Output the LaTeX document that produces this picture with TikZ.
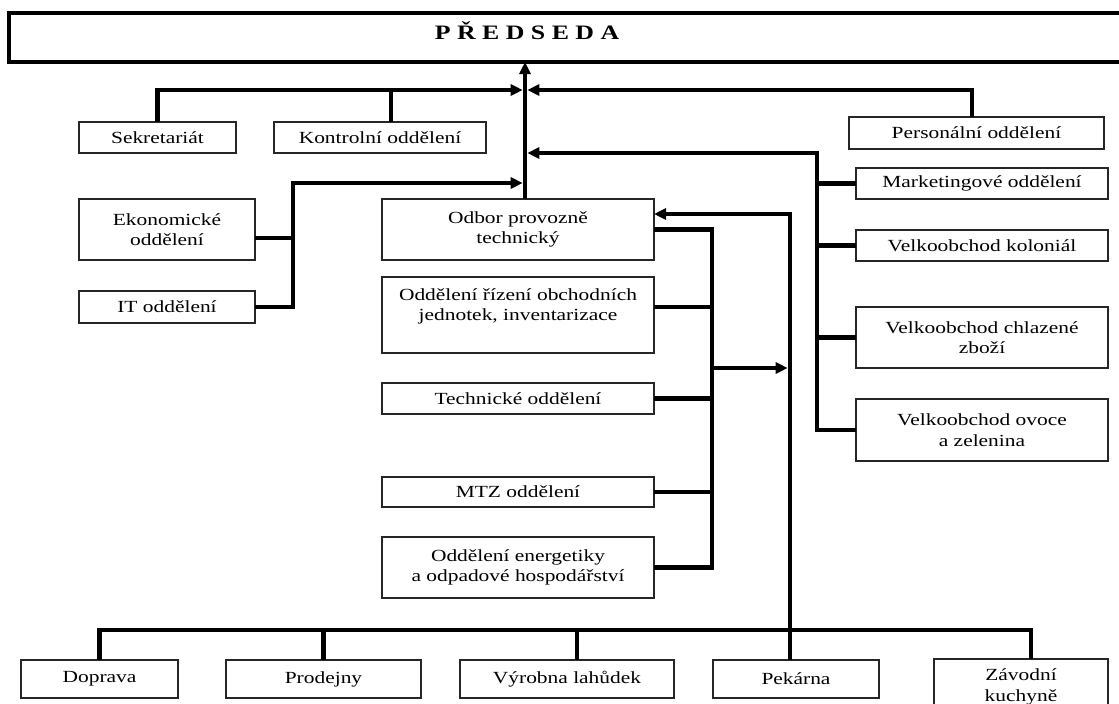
\documentclass[tikz,border=0pt]{standalone}
\usepackage{fontspec}
\setmainfont[FakeStretch=1.26]{Liberation Serif}
\usetikzlibrary{arrows.meta}
\begin{document}
\begin{tikzpicture}[x=1pt,y=-1pt,
  box/.style={draw=black!85, line width=1.2pt, fill=white, inner sep=0pt, outer sep=0pt,
    align=center, font=\fontsize{17}{20.5}\selectfont},
  topbox/.style={draw=black, line width=4pt, fill=white, inner sep=0pt, outer sep=0pt},
  conn/.style={line width=4.5pt},
  arr/.style={-{Triangle[length=12pt,width=11pt]}},
  tip/.style={shorten >=2.3pt}
]
\useasboundingbox (0,0) rectangle (1119,704);
\fill[white] (0,0) rectangle (1119,704);
\clip (0,0) rectangle (1119,704);

% top
\node[topbox, minimum width=1140, minimum height=49] (predseda) at (579,37.5) {};
\node[inner sep=0pt, anchor=base, font=\fontsize{20.5}{24}\selectfont\bfseries] (title) at (527,39.3) {P Ř E D S E D A};

% boxes
\node[box, minimum width=157, minimum height=31] (sek) at (157.5,137.5) {Sekretariát};
\node[box, minimum width=212, minimum height=31] (kon) at (380,137.5) {Kontrolní oddělení};
\node[box, minimum width=255, minimum height=32] (per) at (976.5,133) {Personální oddělení};
\node[box, minimum width=252, minimum height=31] (mkt) at (982,183.5) {Marketingové oddělení};
\node[box, minimum width=252, minimum height=31] (kol) at (982,245.5) {Velkoobchod koloniál};
\node[box, minimum width=252, minimum height=61] (chl) at (982,337.5) {Velkoobchod chlazené\\zboží};
\node[box, minimum width=252, minimum height=62] (ovo) at (982,430) {Velkoobchod ovoce\\a zelenina};
\node[box, minimum width=176, minimum height=61] (eko) at (167,229.5) {Ekonomické\\oddělení};
\node[box, minimum width=176, minimum height=32] (it) at (167,307) {IT oddělení};
\node[box, minimum width=272, minimum height=61] (odb) at (518,229.5) {Odbor provozně\\technický};
\node[box, minimum width=272, minimum height=76] (riz) at (518,315) {Oddělení řízení obchodních\\jednotek, inventarizace\\\mbox{}};
\node[box, minimum width=272, minimum height=31] (tec) at (518,398.5) {Technické oddělení};
\node[box, minimum width=272, minimum height=30] (mtz) at (518,492) {MTZ oddělení};
\node[box, minimum width=272, minimum height=61] (ene) at (518,567.5) {Oddělení energetiky\\a odpadové hospodářství};
\node[box, minimum width=157, minimum height=38] (dop) at (99.5,679) {Doprava};
\node[box, minimum width=195, minimum height=38] (pro) at (323.5,679) {Prodejny};
\node[box, minimum width=214, minimum height=38] (vyr) at (567,679) {Výrobna lahůdek};
\node[box, minimum width=166, minimum height=38] (pek) at (796,679) {Pekárna};
\node[box, minimum width=174, minimum height=56] (zav) at (1021,687) {Závodní\\kuchyně};

% junction coordinates
\coordinate (t90) at (525,90);
\coordinate (t153) at (525,153);
\coordinate (t183) at (525,183);
\coordinate (lb) at (293,183);
\coordinate (rb) at (817,153);
\coordinate (m1) at (712,368);
\coordinate (m2) at (790,368);
\coordinate (busy) at (0,630);
\coordinate (konc) at ([xshift=11pt]kon.north);
\coordinate (perc) at ([xshift=-4.5pt]per.north);
\coordinate (ekoc) at ([yshift=-8.5pt]eko.east);
\coordinate (rizc) at ([yshift=8pt]riz.east);
\coordinate (odbc) at ([yshift=15.5pt]odb.east);
\coordinate (pekc) at ([xshift=-6pt]pek.north);
\coordinate (vyrc) at ([xshift=10pt]vyr.north);
\coordinate (zavc) at ([xshift=10pt]zav.north);

% trunk
\draw[conn,arr] (odb.north -| t90) -- (predseda.south -| t90);
% top row
\draw[conn,arr,tip] (sek.north) |- (t90);
\draw[conn] (konc) -- (konc |- t90);
\draw[conn,arr,tip] (perc) |- (t90);
% right bus
\draw[conn,arr,tip] (ovo.west) -| (rb) -- (t153);
\draw[conn] (mkt.west) -- (mkt.west -| rb);
\draw[conn] (kol.west) -- (kol.west -| rb);
\draw[conn] (chl.west) -- (chl.west -| rb);
% left bus
\draw[conn,arr,tip] (it.east) -| (lb) -- (t183);
\draw[conn] (ekoc) -- (ekoc -| lb);
% middle bus
\draw[conn] (odb.east) -| (m1 |- ene.east) -- (ene.east);
\draw[conn] (rizc) -- (rizc -| m1);
\draw[conn] (tec.east) -- (tec.east -| m1);
\draw[conn] (mtz.east) -- (mtz.east -| m1);
\draw[conn,arr,tip] (m1) -- (m2);
\draw[conn,arr] (pekc) |- (odbc);
% bottom bus
\draw[conn] (dop.north) |- (zavc |- busy) -- (zavc);
\draw[conn] (pro.north) -- (pro.north |- busy);
\draw[conn] (vyrc) -- (vyrc |- busy);
\end{tikzpicture}
\end{document}
